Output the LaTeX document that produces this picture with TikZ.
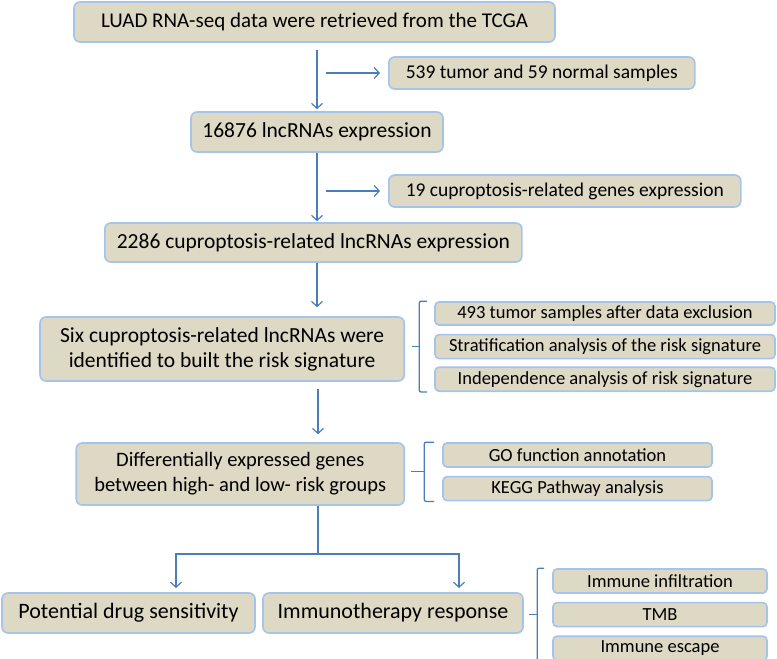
\documentclass[tikz,border=0pt]{standalone}
\usepackage{fontspec}
\setmainfont{Carlito}
\usetikzlibrary{arrows.meta,positioning,calc}
\definecolor{boxfill}{HTML}{DDD9C4}
\definecolor{boxedge}{HTML}{A4C4EC}
\definecolor{linkblue}{HTML}{4A7EBB}

\begin{document}
\begin{tikzpicture}[
    x=1pt, y=-1pt,
    node distance=8pt,
    box/.style={draw=boxedge, line width=1.6pt, fill=boxfill, rounded corners=6pt, align=center, inner sep=0pt},
    mainbox/.style={box, font=\fontsize{21.5}{25}\selectfont, minimum height=40pt},
    sidebox/.style={box, font=\fontsize{19.5}{23}\selectfont, minimum height=32pt, inner xsep=17pt},
    itembox/.style={box, rounded corners=4pt, font=\fontsize{18.5}{20}\selectfont, minimum height=24pt},
    arrow/.style={-{Straight Barb[length=5pt,width=11pt]}, linkblue, line width=1.2pt},
    link/.style={linkblue, line width=1.2pt},
    bracket/.style={linkblue, line width=1.3pt, rounded corners=2pt}
]
\useasboundingbox (0,0) rectangle (777,659);

% main column
\node[mainbox, font=\fontsize{21}{25}\selectfont, minimum width=481pt] (tcga) at (314.5,22) {LUAD RNA-seq data were retrieved from the TCGA};
\node[sidebox, anchor=west] (samples) at (388,73) {539 tumor and 59 normal samples};
\node[mainbox, minimum width=252pt] (lnc) at (317,132) {16876 lncRNAs expression};
\node[sidebox, anchor=west] (genes) at (388,191) {19 cuproptosis-related genes expression};
\node[mainbox, anchor=west, minimum height=39pt, inner xsep=12pt] (culnc) at (104,242.5) {2286 cuproptosis-related lncRNAs expression};
\node[mainbox, anchor=east, minimum height=64pt, inner xsep=20pt] (six) at (405,349)
    {Six cuproptosis-related lncRNAs were\\identified to built the risk signature};
\node[mainbox, font=\fontsize{20.5}{25}\selectfont, anchor=east, minimum height=62pt, inner xsep=18pt] (deg) at (405,474)
    {Differentially expressed genes\\between high- and low- risk groups};
\node[mainbox, font=\fontsize{22}{25}\selectfont, minimum width=253pt] (drug) at (128.5,613) {Potential drug sensitivity};
\node[mainbox, font=\fontsize{22}{25}\selectfont, minimum width=260pt] (immuno) at (393,613) {Immunotherapy response};

% side lists
\node[itembox, minimum width=340pt, minimum height=23pt] (excl) at (605,313.5) {493 tumor samples after data exclusion};
\node[itembox, minimum width=340pt, below=of excl] (strat) {Stratification analysis of the risk signature};
\node[itembox, minimum width=340pt, below=7pt of strat] (indep) {Independence analysis of risk signature};
\node[itembox, minimum width=269pt] (go) at (577.5,455) {GO function annotation};
\node[itembox, minimum width=269pt, below=of go] (kegg) {KEGG Pathway analysis};
\node[itembox, minimum width=214pt] (infil) at (660,581) {Immune infiltration};
\node[itembox, minimum width=214pt, below=of infil] (tmb) {TMB};
\node[itembox, minimum width=214pt, below=of tmb] (escape) {Immune escape};

% connectors
\coordinate (side1) at (326,73);
\coordinate (side2) at (326,191);
\coordinate (split) at (318,554);
\coordinate (toDrug) at (176,588);
\coordinate (toImmuno) at (459,588);
\draw[arrow, shorten <=7pt, shorten >=2pt] (tcga.south -| lnc.north) -- (lnc.north);
\draw[arrow, shorten >=8pt] (side1) -- (samples.west);
\draw[arrow, shorten >=1pt] (lnc.south) -- (lnc.south |- culnc.north);
\draw[arrow, shorten >=8pt] (side2) -- (genes.west);
\draw[arrow, shorten >=9pt] (culnc.south -| lnc.south) -- (six.north -| lnc.south);
\draw[arrow, shorten <=7pt, shorten >=8pt] (six.south -| split) -- (deg.north -| split);
\draw[link] (deg.south -| split) -- (split);
\draw[arrow] (split) -| (toDrug);
\draw[arrow] (split) -| (toImmuno);

% brackets
\draw[bracket] ([xshift=-7pt]excl.north west) -- ++(-8,0) |- ([xshift=-7pt]indep.south west);
\draw[bracket] ($(excl.north west)!0.5!(indep.south west)$) ++(-15,0) -- ++(-7,0);
\draw[bracket] ([xshift=-8pt]go.north west) -- ++(-10,0) |- ([xshift=-8pt]kegg.south west);
\draw[bracket] ($(go.north west)!0.5!(kegg.south west)$) ++(-18,0) -- ++(-13,0);
\draw[bracket] ([xshift=-8pt]infil.north west) -- ++(-7,0) |- ([xshift=-8pt]escape.south west);
\draw[bracket] ($(infil.north west)!0.5!(escape.south west)$) ++(-15,0) -- ++(-8,0);
\end{tikzpicture}
\end{document}
